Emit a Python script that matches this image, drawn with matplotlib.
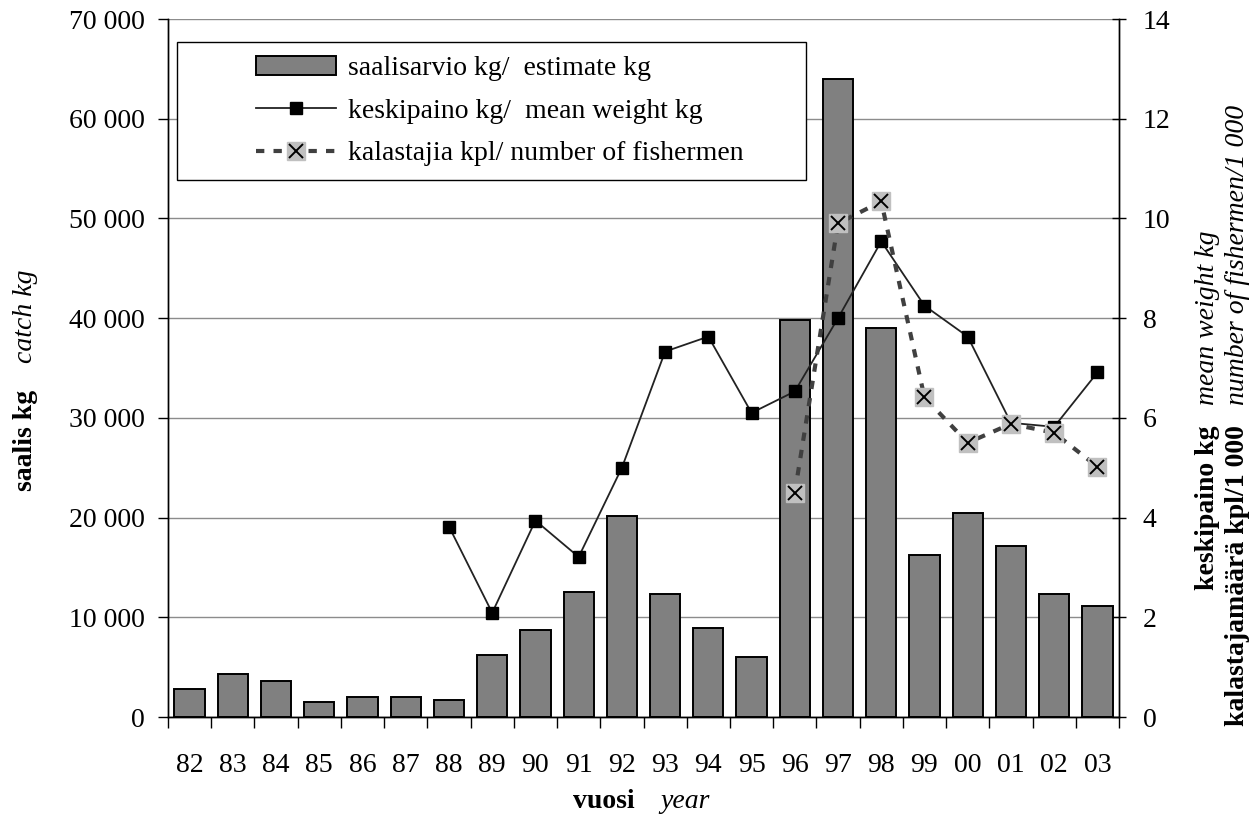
import numpy as np
import matplotlib
matplotlib.use("Agg")
import matplotlib.pyplot as plt
from matplotlib.patches import Rectangle
from matplotlib.ticker import FuncFormatter

# Data
years = ["82", "83", "84", "85", "86", "87", "88", "89", "90", "91", "92",
         "93", "94", "95", "96", "97", "98", "99", "00", "01", "02", "03"]
catch_kg = [2800, 4300, 3600, 1500, 2000, 2000, 1700, 6200, 8700, 12500, 20200,
            12300, 8900, 6000, 39800, 64000, 39000, 16200, 20500, 17100, 12300, 11100]
mean_weight = [np.nan, np.nan, np.nan, np.nan, np.nan, np.nan, 3.82, 2.09, 3.94, 3.21, 5.0,
               7.33, 7.63, 6.10, 6.53, 8.0, 9.54, 8.25, 7.63, 5.90, 5.82, 6.91]
fishermen = [np.nan, np.nan, np.nan, np.nan, np.nan, np.nan, np.nan, np.nan, np.nan, np.nan, np.nan,
             np.nan, np.nan, np.nan, 4.50, 9.90, 10.34, 6.41, 5.50, 5.88, 5.70, 5.02]

left_ticks = np.arange(0, 70001, 10000)
right_ticks = np.arange(0, 15, 2)

plt.rcParams["font.family"] = ["Liberation Serif", "DejaVu Serif"]
plt.rcParams["font.size"] = 20

W, H = 1257, 822
fig = plt.figure(figsize=(W / 100, H / 100), dpi=100)

# Axes placed in pixel terms of the reference
ax_left, ax_right, ax_top, ax_bottom = 168, 1119, 19, 717
ax = fig.add_axes([ax_left / W, 1 - ax_bottom / H, (ax_right - ax_left) / W, (ax_bottom - ax_top) / H])
ax2 = ax.twinx()

x = np.arange(len(years))

# Bars (catch)
ax.bar(x, catch_kg, width=0.7, color="#808080", edgecolor="black", linewidth=1.4, zorder=2)

ax.set_xlim(-0.5, len(years) - 0.5)
ax.set_ylim(0, 70000)
ax.set_yticks(left_ticks)
ax.yaxis.set_major_formatter(FuncFormatter(lambda v, p: f"{int(v):,}".replace(",", " ")))
ax.grid(axis="y", color="#8c8c8c", linewidth=1.0, zorder=0)
ax.set_axisbelow(True)

ax.set_xticks(x)
ax.set_xticklabels(years)
ax.set_xticks(np.arange(-0.5, len(years), 1), minor=True)
ax.tick_params(axis="x", which="major", length=0, pad=26)
ax.tick_params(axis="x", which="minor", length=8, width=1, direction="out")
ax.tick_params(axis="y", length=7, width=1, direction="out", pad=10)

ax.spines["top"].set_visible(False)
ax2.spines["top"].set_visible(False)
for sp in ["left", "bottom", "right"]:
    ax.spines[sp].set_linewidth(1.0)
    ax2.spines[sp].set_linewidth(1.0)

# Lines on the secondary axis
mw_line, = ax2.plot(x, mean_weight, color="#222222", linewidth=1.3, marker="s", markersize=8.5,
                    markerfacecolor="black", markeredgecolor="black", zorder=3)
fish_line, = ax2.plot(x, fishermen, color="#404040", linewidth=3.0, dashes=(2.0, 2.2),
                      marker="s", markersize=12.5, markerfacecolor="#c0c0c0", markeredgecolor="#c0c0c0",
                      zorder=4)
fish_x, = ax2.plot(x, fishermen, linestyle="none", marker="x", markersize=9.5, markeredgewidth=1.4,
                   color="black", zorder=5)

ax2.set_ylim(0, 14)
ax2.set_yticks(right_ticks)
ax2.tick_params(axis="y", length=10, width=1, direction="inout", pad=12)

# Legend with white framed box
bx0, by0, bx1, by1 = 177, 42, 806, 180
rect = Rectangle((bx0 / W, 1 - by1 / H), (bx1 - bx0) / W, (by1 - by0) / H, transform=fig.transFigure,
                 facecolor="white", edgecolor="black", linewidth=1.0, zorder=3)
fig.add_artist(rect)
bar_handle = Rectangle((0, 0), 1, 1, facecolor="#808080", edgecolor="black", linewidth=1.4)
leg = fig.legend([bar_handle, mw_line, (fish_line, fish_x)],
                 ["saalisarvio kg/  estimate kg", "keskipaino kg/  mean weight kg",
                  "kalastajia kpl/ number of fishermen"],
                 loc="center", bbox_to_anchor=((bx0 + bx1) / 2 / W + 8 / W, 1 - (by0 + by1) / 2 / H),
                 frameon=False, handlelength=2.9, handletextpad=0.4, labelspacing=0.62,
                 fontsize=20, borderpad=0)
leg.set_zorder(6)

# Axis titles (mixed bold / italic)
fig.text(25 / W, 1 - 390 / H, "saalis kg", rotation=90, fontweight="bold", ha="center", va="top")
fig.text(25 / W, 1 - 363 / H, "catch kg", rotation=90, fontstyle="italic", ha="center", va="bottom")

fig.text(1207 / W, 1 - 425 / H, "keskipaino kg", rotation=90, fontweight="bold", ha="center", va="top")
fig.text(1207 / W, 1 - 405 / H, "mean weight kg", rotation=90, fontstyle="italic", ha="center", va="bottom")
fig.text(1238 / W, 1 - 425 / H, "kalastajamäärä kpl/1 000", rotation=90, fontweight="bold",
         ha="center", va="top")
fig.text(1238 / W, 1 - 405 / H, "number of fishermen/1 000", rotation=90, fontstyle="italic",
         ha="center", va="bottom")

fig.text(635 / W, 1 - 808 / H, "vuosi", fontweight="bold", ha="right", va="baseline")
fig.text(660 / W, 1 - 808 / H, "year", fontstyle="italic", ha="left", va="baseline")

fig.savefig("out.png", dpi=100)
